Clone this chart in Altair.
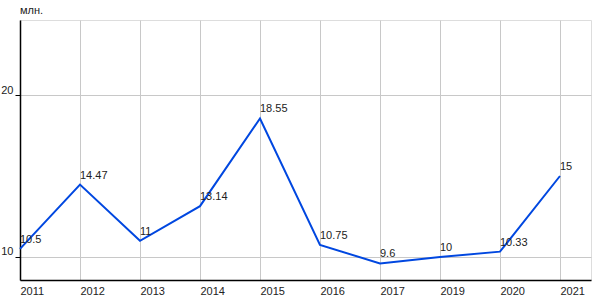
import altair as alt
import pandas as pd

years = ["2011", "2012", "2013", "2014", "2015", "2016", "2017", "2019", "2020", "2021"]
values = [10.5, 14.47, 11, 13.14, 18.55, 10.75, 9.6, 10, 10.33, 15]
labels = ["10.5", "14.47", "11", "13.14", "18.55", "10.75", "9.6", "10", "10.33", "15"]

df = pd.DataFrame({"i": list(range(len(years))), "year": years, "v": values, "lab": labels})

label_expr = "[" + ",".join('"%s"' % y for y in years) + "][datum.value]"

x = alt.X("i:Q",
          scale=alt.Scale(domain=[0, 9.517], nice=False, zero=False),
          axis=alt.Axis(values=list(range(len(years))), labelExpr=label_expr, title=None,
                        labelAlign="left", labelFlush=False, tickSize=0, labelPadding=5,
                        grid=True, gridColor="#c8c8c8", gridWidth=1,
                        domainColor="black", domainWidth=1.5,
                        labelFont="Liberation Sans", labelFontSize=11, labelColor="#222"))
y = alt.Y("v:Q",
          scale=alt.Scale(domain=[8.58, 24.63], nice=False, zero=False),
          axis=alt.Axis(values=[10, 20], title=None, tickSize=5, tickColor="black",
                        labelPadding=2, labelBaseline="bottom",
                        grid=True, gridColor="#c8c8c8", gridWidth=1,
                        domainColor="black", domainWidth=1.5,
                        labelFont="Liberation Sans", labelFontSize=11, labelColor="#222"))

line = alt.Chart(df).mark_line(color="#0047e0", strokeWidth=2).encode(x=x, y=y)
text = alt.Chart(df).mark_text(align="left", baseline="bottom", dx=0, dy=-4,
                               font="Liberation Sans", fontSize=11, color="#222").encode(
    x="i:Q", y="v:Q", text="lab:N")

chart = (line + text).properties(
    width=571, height=260,
    title=alt.TitleParams("млн.", anchor="start", frame="group", fontSize=11,
                          font="Liberation Sans", fontWeight="normal", color="#222", offset=4),
    autosize=alt.AutoSizeParams(type="none"),
    padding={"left": 20, "top": 20, "right": 9, "bottom": 20},
).configure_view(fill="#ebebeb", stroke=None).configure(background="white")

chart.save("out.html", embed_options={"renderer": "svg", "actions": False})
